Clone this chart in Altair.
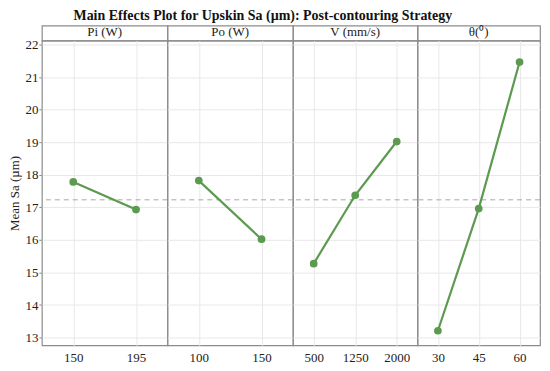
import altair as alt
import pandas as pd

factors = ["Pi (W)", "Po (W)", "V (mm/s)", "θ(⁰)"]
levels = [["150", "195"], ["100", "150"], ["500", "1250", "2000"], ["30", "45", "60"]]
means = [[17.78, 16.93], [17.82, 16.02], [15.27, 17.37, 19.02], [13.21, 16.96, 21.46]]
grand_mean = 17.23
y_ticks = [13, 14, 15, 16, 17, 18, 19, 20, 21, 22]
y_domain = [12.76, 22.12]

FONT = "Liberation Serif"
GREEN = "#5b9a4f"
BORDER = "#8c8c8c"
panel_widths = [126, 126, 125, 123]
PANEL_H = 306
HEADER_H = 15

headers = []
mains = []
for i, (fac, lv, mv) in enumerate(zip(factors, levels, means)):
    w = panel_widths[i]
    df = pd.DataFrame({"level": lv, "mean": mv})
    first = i == 0
    yaxis = alt.Axis(
        values=y_ticks,
        grid=True,
        gridColor="#e8e8e8",
        labels=first,
        ticks=first,
        tickSize=3,
        tickColor=BORDER,
        domain=False,
        title="Mean Sa (µm)" if first else None,
        titleFont=FONT,
        titleFontSize=13,
        titleFontWeight="normal",
        titleColor="#222",
        titlePadding=3,
        labelFont=FONT,
        labelFontSize=13,
        labelColor="#222",
        labelPadding=1,
    )
    x = alt.X(
        "level:O",
        sort=lv,
        axis=alt.Axis(
            labelAngle=0,
            title=None,
            grid=True,
            gridColor="#e8e8e8",
            ticks=False,
            domain=False,
            labelFont=FONT,
            labelFontSize=13,
            labelColor="#222",
            labelPadding=6,
        ),
    )
    y = alt.Y("mean:Q", scale=alt.Scale(domain=y_domain, nice=False, zero=False), axis=yaxis)
    base = alt.Chart(df)
    line = base.mark_line(color=GREEN, strokeWidth=2.2).encode(x=x, y=y)
    pts = base.mark_point(filled=True, color=GREEN, size=60, opacity=1).encode(x=x, y=y)
    rule = alt.Chart(pd.DataFrame({"gm": [grand_mean]})).mark_rule(
        color="#a8a8a8", strokeDash=[5, 4], strokeWidth=1
    ).encode(y=alt.Y("gm:Q", scale=alt.Scale(domain=y_domain, nice=False, zero=False), axis=yaxis))
    mains.append(alt.layer(rule, line, pts).properties(width=w, height=PANEL_H))

    headers.append(
        alt.Chart(pd.DataFrame({"f": [fac]})).mark_text(
            font=FONT, fontSize=13, color="#222", baseline="middle"
        ).encode(
            text="f:N", x=alt.value(w / 2), y=alt.value(HEADER_H / 2 - 1)
        ).properties(width=w, height=HEADER_H)
    )

chart = alt.concat(*headers, *mains, columns=4, spacing=0, bounds="flush").resolve_scale(
    x="independent", y="independent"
).properties(
    title=alt.Title(
        "Main Effects Plot for Upskin Sa (µm): Post-contouring Strategy",
        font=FONT,
        fontSize=14,
        fontWeight="bold",
        color="#111",
        anchor="middle",
        offset=2,
        dx=-12,
    ),
    padding={"left": 0, "top": 0, "right": 0, "bottom": 0},
).configure_view(stroke=BORDER, strokeWidth=1.2)

chart.save("out.html", embed_options={"renderer": "svg", "actions": False})
